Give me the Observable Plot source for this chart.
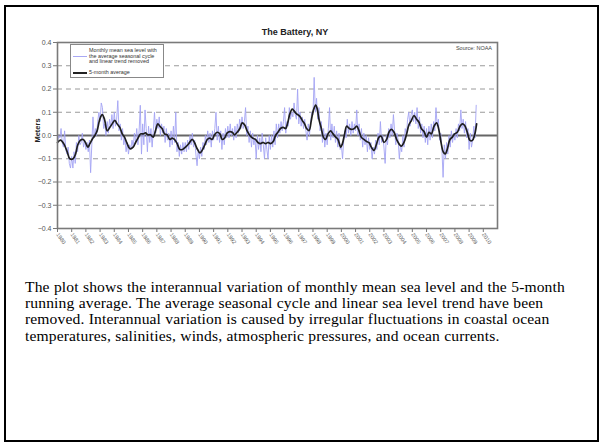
<!DOCTYPE html>
<html><head><meta charset="utf-8">
<script src="https://cdn.jsdelivr.net/npm/d3@7"></script>
<script src="https://cdn.jsdelivr.net/npm/@observablehq/plot@0.6"></script>
<style>
body{margin:0;background:#fff;}
#page{position:relative;width:602px;height:444px;overflow:hidden;background:#fff;}
#border{position:absolute;left:4px;top:5px;width:591px;height:433px;border:2px solid #000;}
#chart{position:absolute;left:0;top:0;}
.t{position:absolute;font-family:"Liberation Sans",Arial,sans-serif;color:#222;white-space:nowrap;}
#title{left:195px;width:200px;top:27px;text-align:center;font-size:9px;font-weight:bold;}
#ylab{left:20px;top:126px;width:34px;text-align:center;font-size:7.5px;font-weight:bold;transform:rotate(-90deg);}
#source{left:400px;width:92px;top:45px;text-align:right;font-size:5.5px;color:#444;}
#legend{position:absolute;left:70px;top:44px;width:92px;height:32px;border:1px solid #888;background:#fff;}
.lt{position:absolute;font-family:"Liberation Sans",Arial,sans-serif;font-size:5.4px;line-height:5.6px;color:#333;white-space:nowrap;}
#para{position:absolute;left:25px;top:279px;font-family:"Liberation Serif","Times New Roman",serif;font-size:15.6px;line-height:16.2px;letter-spacing:0.12px;word-spacing:0.3px;color:#000;white-space:nowrap;}
</style></head>
<body><div id="page">
<div id="chart"></div>
<div id="legend">
  <div style="position:absolute;left:2px;top:11px;width:14px;border-top:1px solid #a8a8f5;"></div>
  <div class="lt" style="left:18px;top:3px;">Monthly mean sea level with<br>the average seasonal cycle<br>and linear trend removed</div>
  <div style="position:absolute;left:2px;top:27px;width:14px;border-top:2px solid #222;"></div>
  <div class="lt" style="left:18px;top:25px;">5-month average</div>
</div>
<div class="t" id="title">The Battery, NY</div>
<div class="t" id="ylab">Meters</div>
<div class="t" id="source">Source: NOAA</div>
<div id="para">The plot shows the interannual variation of monthly mean sea level and the 5-month<br>running average. The average seasonal cycle and linear sea level trend have been<br>removed. Interannual variation is caused by irregular fluctuations in coastal ocean<br>temperatures, salinities, winds, atmospheric pressures, and ocean currents.</div>
<div id="border"></div>
</div>
<script>
// ---- data ----
const xTicks = d3.range(1980, 2011);
const yTicks = [-0.4, -0.3, -0.2, -0.1, 0.0, 0.1, 0.2, 0.3, 0.4];
const gridValues = [-0.3, -0.2, -0.1, 0.1, 0.2, 0.3];

// monthly mean sea level anomaly (m), one row per year, Jan..Dec
const monthlyYears = d3.range(1980, 2010);
const monthlyValues = [
  [-0.04, 0.0, -0.01, 0.03, -0.03, -0.05, 0.02, -0.06, -0.08, -0.05, -0.12, -0.14],
  [-0.09, -0.14, -0.07, -0.12, -0.03, -0.07, 0.0, -0.04, -0.03, 0.01, -0.05, -0.02],
  [-0.06, -0.03, -0.07, -0.02, -0.16, -0.04, 0.08, -0.01, 0.03, 0.0, 0.06, 0.1],
  [0.06, 0.14, 0.12, 0.03, 0.05, 0.0, 0.06, 0.01, 0.07, 0.04, 0.09, 0.03],
  [0.1, 0.04, 0.07, 0.15, 0.02, 0.05, -0.02, 0.03, -0.04, -0.01, -0.07, -0.03],
  [-0.08, -0.04, -0.06, -0.02, -0.05, 0.01, -0.03, 0.03, -0.04, 0.02, 0.13, -0.08],
  [0.05, -0.04, 0.11, 0.03, -0.07, 0.04, -0.03, 0.03, -0.05, 0.02, 0.1, 0.01],
  [0.07, 0.03, 0.08, 0.0, 0.05, 0.01, 0.04, -0.03, 0.03, -0.02, 0.01, -0.05],
  [0.02, -0.04, 0.04, -0.03, 0.1, -0.07, -0.03, -0.09, -0.04, -0.08, -0.03, -0.07],
  [-0.03, -0.07, -0.02, -0.06, 0.0, -0.04, 0.01, -0.05, -0.02, -0.08, -0.13, -0.06],
  [-0.1, -0.05, -0.09, -0.03, -0.06, 0.0, -0.04, 0.02, -0.03, 0.01, -0.05, 0.02],
  [-0.02, 0.03, 0.1, -0.02, 0.04, -0.03, 0.02, -0.06, 0.01, -0.04, 0.03, -0.01],
  [0.04, -0.01, 0.05, 0.0, 0.03, -0.02, 0.04, -0.01, 0.05, 0.01, 0.07, 0.03],
  [0.08, 0.03, 0.06, 0.12, 0.0, 0.04, -0.03, 0.02, -0.05, 0.01, -0.04, -0.01],
  [-0.1, 0.0, -0.06, -0.01, -0.07, 0.01, -0.04, -0.1, -0.01, -0.06, -0.1, 0.0],
  [-0.06, 0.0, -0.05, 0.02, -0.04, 0.05, -0.01, 0.05, 0.01, 0.06, 0.02, 0.06],
  [0.12, 0.01, 0.06, 0.04, 0.12, 0.07, 0.1, 0.08, 0.14, 0.09, 0.07, 0.2],
  [0.05, 0.1, 0.04, 0.08, 0.03, 0.07, 0.02, -0.02, 0.05, 0.0, 0.06, 0.1],
  [0.09, 0.25, 0.1, 0.16, 0.07, 0.12, 0.02, 0.06, -0.03, 0.03, -0.05, 0.01],
  [-0.04, 0.03, 0.12, -0.02, 0.05, -0.01, 0.04, -0.03, 0.02, -0.05, 0.01, -0.06],
  [-0.04, -0.1, -0.02, 0.02, -0.01, 0.07, 0.01, 0.05, 0.0, 0.06, 0.01, 0.05],
  [0.02, 0.11, 0.0, 0.05, -0.02, 0.03, -0.05, 0.01, -0.04, 0.0, -0.07, -0.01],
  [-0.06, -0.03, -0.1, -0.05, -0.08, -0.02, -0.06, 0.01, -0.04, 0.06, -0.03, 0.0],
  [-0.05, -0.12, 0.0, -0.04, 0.03, -0.01, 0.05, 0.0, 0.09, 0.02, -0.04, 0.01],
  [-0.02, -0.1, -0.04, -0.07, 0.0, -0.05, 0.03, 0.0, 0.07, 0.1, 0.04, 0.09],
  [0.11, 0.06, 0.1, 0.05, 0.12, 0.03, 0.08, 0.01, 0.05, -0.01, 0.04, -0.03],
  [0.03, -0.04, 0.04, -0.02, 0.05, -0.01, 0.06, 0.02, 0.12, 0.04, 0.07, -0.02],
  [0.01, -0.06, -0.18, -0.04, -0.1, -0.03, -0.08, 0.0, -0.05, 0.02, -0.03, 0.01],
  [-0.02, 0.03, -0.01, 0.05, 0.02, 0.11, 0.03, 0.07, 0.01, 0.06, -0.01, 0.03],
  [-0.06, 0.01, -0.05, -0.02, 0.04, -0.01, 0.13]
];

// 5-month running average, read at decimal years
const avgYears = [1980.0,1980.21,1980.44,1980.68,1980.87,1981.10,1981.27,1981.43,1981.62,1981.81,1981.97,1982.14,1982.28,1982.44,1982.63,1982.79,1982.98,1983.15,1983.31,1983.50,1983.69,1983.85,1984.04,1984.20,1984.39,1984.56,1984.72,1984.91,1985.10,1985.33,1985.50,1985.68,1985.85,1986.04,1986.20,1986.36,1986.55,1986.74,1986.90,1987.07,1987.21,1987.37,1987.54,1987.73,1987.91,1988.08,1988.24,1988.43,1988.62,1988.81,1989.02,1989.25,1989.49,1989.65,1989.84,1990.03,1990.19,1990.36,1990.55,1990.73,1990.90,1991.06,1991.25,1991.44,1991.60,1991.77,1991.96,1992.14,1992.31,1992.47,1992.66,1992.85,1993.01,1993.18,1993.36,1993.55,1993.74,1993.95,1994.12,1994.30,1994.49,1994.66,1994.82,1995.01,1995.20,1995.36,1995.53,1995.71,1995.90,1996.07,1996.23,1996.37,1996.54,1996.65,1996.84,1997.01,1997.12,1997.25,1997.41,1997.55,1997.72,1997.88,1998.02,1998.19,1998.30,1998.42,1998.59,1998.73,1998.89,1999.06,1999.24,1999.41,1999.60,1999.76,1999.95,2000.07,2000.23,2000.37,2000.54,2000.70,2000.89,2001.08,2001.24,2001.40,2001.59,2001.78,2001.95,2002.11,2002.30,2002.46,2002.65,2002.81,2003.00,2003.19,2003.35,2003.52,2003.71,2003.89,2004.06,2004.22,2004.41,2004.60,2004.76,2004.93,2005.12,2005.30,2005.47,2005.63,2005.82,2006.01,2006.17,2006.34,2006.53,2006.71,2006.88,2007.04,2007.18,2007.32,2007.47,2007.65,2007.82,2007.98,2008.17,2008.36,2008.52,2008.69,2008.87,2009.06,2009.23,2009.39,2009.53];
const avgValues = [-0.03,-0.02,-0.035,-0.07,-0.1,-0.1,-0.08,-0.04,-0.02,-0.017,-0.03,-0.05,-0.035,-0.017,0.0,0.02,0.07,0.09,0.07,0.02,0.035,0.05,0.065,0.05,0.035,0.007,-0.007,-0.035,-0.057,-0.05,-0.03,-0.01,0.007,0.007,0.011,0.003,0.003,-0.007,0.02,0.05,0.04,0.03,0.007,0.003,-0.017,-0.011,-0.017,-0.035,-0.06,-0.06,-0.05,-0.035,-0.017,-0.03,-0.057,-0.075,-0.064,-0.043,-0.017,-0.011,-0.017,0.003,0.014,0.007,-0.017,-0.011,0.011,0.017,0.014,0.003,0.014,0.03,0.054,0.046,0.02,0.0,-0.011,-0.017,-0.03,-0.035,-0.03,-0.035,-0.03,-0.035,-0.026,0.0,0.014,0.03,0.035,0.03,0.057,0.093,0.114,0.107,0.093,0.086,0.079,0.064,0.05,0.03,0.021,0.064,0.107,0.131,0.114,0.07,0.03,-0.007,-0.017,0.007,0.02,0.007,-0.007,-0.017,-0.05,-0.036,0.007,0.04,0.031,0.026,0.029,0.04,0.021,-0.007,-0.017,-0.026,-0.031,-0.05,-0.064,-0.04,-0.007,-0.003,-0.03,-0.017,0.014,0.026,0.014,-0.017,-0.036,-0.046,-0.03,0.007,0.046,0.064,0.086,0.07,0.057,0.03,0.017,-0.007,0.014,0.007,0.04,0.054,0.021,-0.036,-0.071,-0.079,-0.057,-0.017,-0.007,0.007,0.014,0.04,0.05,0.043,0.014,-0.021,-0.021,0.003,0.05];

// ---- tables ----
const monthly = [];
monthlyYears.forEach((yr, i) => monthlyValues[i].forEach((v, m) => monthly.push({t: yr + m / 12, v})));
const avg = avgYears.map((t, i) => ({t, v: avgValues[i]}));

const chart = Plot.plot({
  width: 602, height: 262,
  marginLeft: 57, marginRight: 105, marginTop: 42, marginBottom: 34,
  style: {fontFamily: "'Liberation Sans', Arial, sans-serif", fontSize: "6px", color: "#555", background: "transparent", overflow: "visible"},
  x: {domain: [1980, 2011]},
  y: {domain: [-0.4, 0.4]},
  marks: [
    Plot.ruleY(gridValues, {stroke: "#9a9a9a", strokeDasharray: "5,4", strokeWidth: 1}),
    Plot.ruleY([0], {stroke: "#666", strokeWidth: 2}),
    Plot.line(monthly, {x: "t", y: "v", stroke: "#a4a4f4", strokeWidth: 0.9}),
    Plot.line(avg, {x: "t", y: "v", stroke: "#1e1e1e", strokeWidth: 1.7, curve: "catmull-rom"}),
    Plot.frame({stroke: "#7a7a7a", strokeWidth: 1.6}),
    Plot.axisY(yTicks, {tickFormat: d3.format(".1f"), tickSize: 4, tickPadding: 2, stroke: "#777", fill: "#555", label: null, fontSize: 7}),
    Plot.axisX(xTicks, {tickFormat: d => String(d), tickRotate: 55, tickSize: 4, tickPadding: 1, stroke: "#777", fill: "#666", label: null, fontSize: 5.5})
  ]
});
document.getElementById("chart").appendChild(chart);
</script>
</body></html>
